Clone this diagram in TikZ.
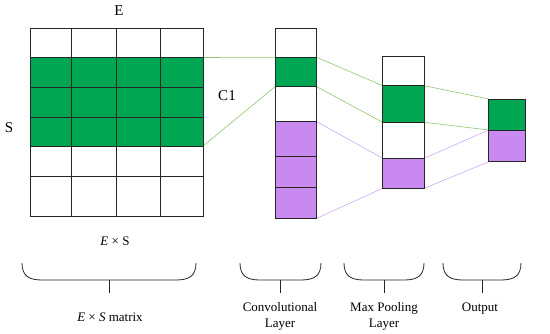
\documentclass[tikz,border=0pt]{standalone}
\usepackage{fontspec}
\setmainfont{Liberation Serif}
\usetikzlibrary{backgrounds}
\definecolor{cgreen}{RGB}{0,166,81}
\definecolor{cpurple}{RGB}{200,138,240}
\definecolor{lgreen}{RGB}{140,200,110}
\definecolor{lpurple}{RGB}{205,170,240}
\begin{document}
\begin{tikzpicture}[x=1pt,y=-1pt,
  cellbox/.style={draw=black!85,line width=0.9pt,inner sep=0pt,outer sep=0pt,anchor=north west},
  gcell/.style={cellbox,fill=cgreen},
  pcell/.style={cellbox,fill=cpurple},
  wcell/.style={cellbox,fill=white},
  gline/.style={draw=lgreen,line width=0.6pt},
  pline/.style={draw=lpurple,line width=0.6pt},
  lbl/.style={font=\fontsize{15}{18}\selectfont},
  blbl/.style={font=\fontsize{13}{16}\selectfont,align=center,anchor=north},
  brace/.style={draw=black!85,line width=0.8pt}]
\useasboundingbox (0,0) rectangle (550,334);
% matrix rows
\node[wcell,minimum width=173pt,minimum height=29.5pt] (r1) at (30,28) {};
\node[gcell,minimum width=173pt,minimum height=30pt] (r2) at (30,57.5) {};
\node[gcell,minimum width=173pt,minimum height=29.5pt] (r3) at (30,87.5) {};
\node[gcell,minimum width=173pt,minimum height=29pt] (r4) at (30,117) {};
\node[wcell,minimum width=173pt,minimum height=30pt] (r5) at (30,146) {};
\node[wcell,minimum width=173pt,minimum height=40.5pt] (r6) at (30,176) {};
\foreach \cx in {71.5,116.5,160.5}
  \draw[black!85,line width=0.9pt] (\cx,28) -- (\cx,216.5);
% conv layer
\node[wcell,minimum width=41.7pt,minimum height=29pt] (c1) at (275,28.3) {};
\node[gcell,minimum width=41.7pt,minimum height=29.4pt] (c2) at (275,57.3) {};
\node[wcell,minimum width=41.7pt,minimum height=35pt] (c3) at (275,86.7) {};
\node[pcell,minimum width=41.7pt,minimum height=35pt] (c4) at (275,121.7) {};
\node[pcell,minimum width=41.7pt,minimum height=31pt] (c5) at (275,156.7) {};
\node[pcell,minimum width=41.7pt,minimum height=30.6pt] (c6) at (275,187.7) {};
% pooling layer
\node[wcell,minimum width=41.6pt,minimum height=29pt] (p1) at (382.7,56.7) {};
\node[gcell,minimum width=41.6pt,minimum height=36.6pt] (p2) at (382.7,85.7) {};
\node[wcell,minimum width=41.6pt,minimum height=36pt] (p3) at (382.7,122.3) {};
\node[pcell,minimum width=41.6pt,minimum height=30pt] (p4) at (382.7,158.3) {};
% output
\node[gcell,minimum width=37pt,minimum height=31pt] (o1) at (488.7,99) {};
\node[pcell,minimum width=37pt,minimum height=31.7pt] (o2) at (488.7,130) {};
% connectors
\begin{scope}[on background layer]
\draw[gline] (r2.north east) -- (c2.north west);
\draw[gline] (r4.south east) -- (c2.south west);
\draw[gline] (c2.north east) -- (p2.north west);
\draw[gline] (c2.south east) -- (p2.south west);
\draw[gline] (p2.north east) -- (o1.north west);
\draw[gline] (p2.south east) -- (o1.south west);
\draw[pline] (c4.north east) -- (p4.north west);
\draw[pline] (c6.south east) -- (p4.south west);
\draw[pline] (p4.north east) -- (o2.north west);
\draw[pline] (p4.south east) -- (o2.south west);
\end{scope}
% labels
\node[lbl] (lE) at (119,11) {E};
\node[lbl] (lC) at (227,96) {C1};
\node[lbl] (lS) at (9,128) {S};
\node[font=\fontsize{13}{16}\selectfont] (lES) at (115,241) {\textit{E} × S};
% braces
\foreach \n/\a/\b in {m/22/196,c/240/321,p/344/424,o/443/521}{
  \coordinate (\n L) at (\a,263);
  \coordinate (\n R) at (\b,263);
  \coordinate (\n T) at ({(\a+\b)/2},293);
  \draw[brace] (\n L) .. controls (\a,276) and (\a+7,280) .. (\a+20,280)
     -- (\b-20,280) .. controls (\b-7,280) and (\b,276) .. (\n R);
  \draw[brace] ({(\a+\b)/2},280) -- (\n T);
}
\node[font=\fontsize{13}{16}\selectfont] (lm) at (110,317) {\textit{E} × \textit{S} matrix};
\node[blbl] (lc) at (280,299) {Convolutional\\Layer};
\node[blbl] (lp) at (384,299) {Max Pooling\\Layer};
\node[blbl] (lo) at (480,299) {Output};
\end{tikzpicture}
\end{document}
